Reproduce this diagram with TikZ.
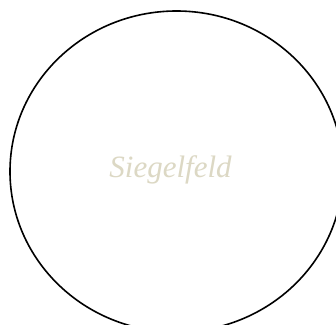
\documentclass[tikz,border=0pt]{standalone}
\usepackage{fontspec}
\setmainfont{Liberation Serif}
\usetikzlibrary{shapes.geometric}
\definecolor{sealtext}{RGB}{220,216,196}
\tikzset{
  sealring/.style={ellipse, draw=black, line width=1.6pt, inner sep=0pt,
    minimum width=333pt, minimum height=321pt},
  sealname/.style={text=sealtext, font=\itshape\fontsize{31}{36}\selectfont, inner sep=0pt, anchor=base}
}
\begin{document}
\begin{tikzpicture}[x=1pt,y=1pt]
\useasboundingbox (0,0) rectangle (336,-324);
\clip (0,0) rectangle (336,-324);
\fill[white] (0,0) rectangle (336,-324);
\node[sealring] (ring) at (176.5,-171.5) {};
\node[sealname] (name) at (170.5,-177.5) {Siegelfeld};
\end{tikzpicture}
\end{document}
